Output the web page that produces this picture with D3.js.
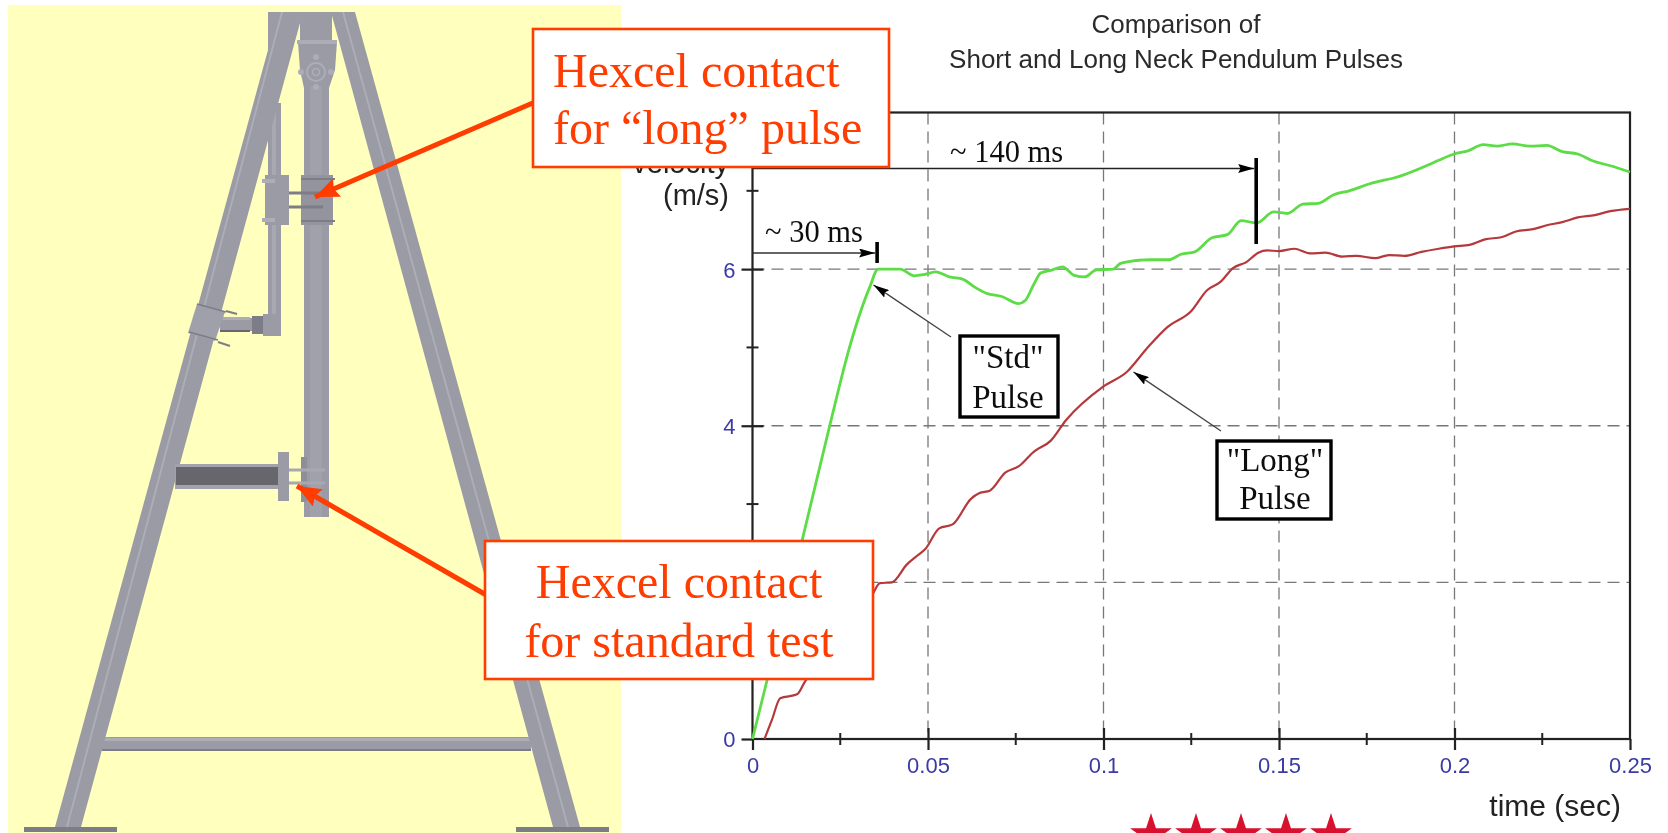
<!DOCTYPE html>
<html><head><meta charset="utf-8">
<style>html,body{margin:0;padding:0;background:#fff;overflow:hidden}svg{display:block}
text{font-family:"Liberation Sans",Arial,sans-serif}
.serif{font-family:"Liberation Serif","Times New Roman",serif}</style>
<script src="https://cdn.jsdelivr.net/npm/d3@7"></script></head><body>
<script>
const titleLines = ["Comparison of", "Short and Long Neck Pendulum Pulses"];
const xMajor = [0, 0.05, 0.1, 0.15, 0.2, 0.25];
const xMinor = [0.025, 0.075, 0.125, 0.175, 0.225];
const yMajor = [0, 2, 4, 6, 8];
const yMinor = [1, 3, 5, 7];
const yLabelled = [0, 4, 6];
const xGrid = [0.05, 0.1, 0.15, 0.2];
const yGrid = [2, 4, 6];
const stdTime = [0,.0042,.01416,.022,.0277,.0334,.0358,.0392,.0421,.046,.0488,.0522,.0561,.06,.0633,.0667,.071,.0758,.0777,.0802,.0821,.0855,.0883,.0917,.0946,.098,.1028,.1047,.1076,.1133,.1187,.1221,.126,.1309,.1353,.1392,.1436,.1485,.1524,.1568,.1612,.1656,.17,.1759,.1847,.1915,.1955,.1999,.2038,.2082,.2121,.2165,.2214,.2263,.2307,.2351,.2395,.2444,.25];
const stdVel = [0,.76,2.54,4.0,5.01,5.77,6.0,6.0,6.0,5.915,5.93,5.966,5.9,5.87,5.77,5.69,5.65,5.56,5.6,5.81,5.95,5.99,6.03,5.92,5.9,5.99,6.0,6.07,6.1,6.12,6.12,6.19,6.22,6.4,6.44,6.62,6.59,6.73,6.71,6.83,6.84,6.95,7.0,7.09,7.19,7.31,7.39,7.47,7.51,7.59,7.57,7.6,7.57,7.58,7.5,7.47,7.38,7.32,7.24];
const longTime = [.0034,.0055,.0079,.0127,.0149,.02,.025,.03,.0339,.0363,.0397,.044,.0469,.0493,.0532,.057,.0623,.0647,.0676,.072,.0758,.0802,.085,.0893,.0999,.1067,.1124,.1182,.1251,.1295,.1334,.1368,.1407,.1441,.1466,.15,.1544,.1588,.1632,.1681,.172,.1774,.1813,.1857,.1906,.1955,.1999,.2043,.2087,.2136,.2175,.2224,.2263,.2307,.2351,.24,.2444,.25];
const longVel = [0,.24,.52,.57,.73,1.02,1.3,1.6,1.82,1.99,2.0,2.23,2.34,2.43,2.69,2.74,3.07,3.14,3.17,3.4,3.48,3.67,3.81,4.07,4.5,4.69,4.99,5.26,5.47,5.73,5.84,6.01,6.09,6.21,6.24,6.23,6.26,6.2,6.21,6.16,6.17,6.14,6.18,6.17,6.22,6.26,6.29,6.31,6.38,6.41,6.48,6.51,6.56,6.6,6.66,6.69,6.74,6.77];
const starCount = [0,1,2,3,4];

const svg = d3.select("body").append("svg").attr("width",1668).attr("height",833);
const defs = svg.append("defs");
defs.append("filter").attr("id","soft").append("feGaussianBlur").attr("stdDeviation",0.55);
defs.append("filter").attr("id","soft2").append("feGaussianBlur").attr("stdDeviation",0.35);
const mk = (id,c,w,h)=>defs.append("marker").attr("id",id).attr("markerUnits","userSpaceOnUse")
  .attr("markerWidth",w).attr("markerHeight",h).attr("refX",w).attr("refY",h/2).attr("orient","auto")
  .append("path").attr("d",`M0,0L${w},${h/2}L0,${h}L${w*0.15},${h/2}Z`).attr("fill",c);
mk("blk","#000",16,9); mk("redh","#ff3c00",24,20);

/* ---------- pendulum frame illustration ---------- */
const art = svg.append("g").attr("filter","url(#soft)");
const G="#9b9ba6", L="#adadb8", D="#7d7d88", DK="#67666d";
const poly=(s,f)=>art.append("polygon").attr("points",s).attr("fill",f);
const rect=(x,y,w,h,f)=>art.append("rect").attr("x",x).attr("y",y).attr("width",w).attr("height",h).attr("fill",f);
const ln=(a,b,c,d,s,w)=>art.append("line").attr("x1",a).attr("y1",b).attr("x2",c).attr("y2",d).attr("stroke",s).attr("stroke-width",w);
rect(8,5,613,828,"#ffffbe");
// feet
rect(24,827,93,5,D); rect(516,827,93,5,D);
// crossbar
rect(102,737,429,14,G); rect(102,738,429,3,L); rect(102,749,429,2,D);
// centre pieces
poly("298,42 337,42 335,70 329,88 304,88 300,70",G);
rect(304,86,25,431,G); rect(310,86,12,431,"#a1a1ac");
// top cap
rect(268,12,87,4,"#a6a6b1"); rect(300,12,32,32,G); rect(297,40,40,4,L);
art.append("circle").attr("cx",316).attr("cy",72).attr("r",9).attr("fill","none").attr("stroke",L).attr("stroke-width",2);
art.append("circle").attr("cx",316).attr("cy",72).attr("r",3.5).attr("fill","none").attr("stroke",L).attr("stroke-width",1.5);
[[316,57],[316,87],[301,72],[331,72]].forEach(p=>art.append("circle").attr("cx",p[0]).attr("cy",p[1]).attr("r",3).attr("fill",L));
// secondary arm
rect(268,103,13,232,G); rect(272,103,4,232,"#a8a8b3");
rect(220,318,34,13,G); rect(220,317,30,3,L); rect(220,330,30,2,DK);
rect(252,316,29,18,D); rect(263,314,18,22,G);
// upper clamp
rect(265,175,24,50,G); rect(262,179,13,4,L); rect(262,218,13,4,L);
rect(301,175,32,50,"#94949f"); ln(301,179,335,179,D,2); ln(301,221,335,221,D,2);
ln(289,193,323,193,D,3); ln(289,207,323,207,D,3);
// legs
poly("268,12 303,12 81,827 55,827 268,50",G);
poly("331,12 355,12 580,827 553,827",G);
poly("281,12 283,12 68,827 66,827",L);
poly("342,12 344,12 569,827 567,827",L);
poly("197,304 225,312 215,341 188,333","#a0a0ab");
ln(197,304,226,312,D,1.5); ln(189,332,218,340,D,1.5);
ln(226,311,237,314,D,2); ln(218,342,230,346,D,2);
// lower beam
rect(175,464,104,25,"#a2a2ad"); rect(176,467,103,18,DK);
rect(278,452,11,49,G);
rect(301,457,6,45,"#8e8e99");
ln(289,470,325,470,"#a8a8b3",3); ln(289,483,325,483,"#a8a8b3",3);

/* ---------- chart ---------- */
const x = d3.scaleLinear().domain([0,0.25]).range([752.5,1630]);
const y = d3.scaleLinear().domain([0,8]).range([739,112.5]);
const chart = svg.append("g").attr("filter","url(#soft)");
const gridC="#77777c";
chart.append("g").selectAll("line").data(xGrid).join("line")
  .attr("x1",d=>x(d)).attr("x2",d=>x(d)).attr("y1",y(8)).attr("y2",y(0))
  .attr("stroke",gridC).attr("stroke-width",1.3).attr("stroke-dasharray","12,7");
chart.append("g").selectAll("line").data(yGrid).join("line")
  .attr("x1",x(0)).attr("x2",x(0.25)).attr("y1",d=>y(d)).attr("y2",d=>y(d))
  .attr("stroke",gridC).attr("stroke-width",1.3).attr("stroke-dasharray","12,7");
// frame
chart.append("rect").attr("x",x(0)).attr("y",y(8)).attr("width",x(0.25)-x(0)).attr("height",y(0)-y(8))
  .attr("fill","none").attr("stroke","#222").attr("stroke-width",2.2);
// x axis
const axB = chart.append("g").attr("transform",`translate(0,${y(0)})`)
  .call(d3.axisBottom(x).tickValues(xMajor).tickSize(11).tickPadding(9).tickFormat(d=>d3.format("~g")(d)));
axB.select(".domain").remove();
axB.selectAll("line").attr("y1",d=>d===0?0:(d===0.25?0:-11)).attr("stroke","#222").attr("stroke-width",2.2);
axB.selectAll("text").attr("y",34).attr("dy",0).attr("font-size",22).attr("fill","#3a3aa6").attr("font-family","Liberation Sans");
chart.append("g").selectAll("line").data(xMinor).join("line")
  .attr("x1",d=>x(d)).attr("x2",d=>x(d)).attr("y1",y(0)-6).attr("y2",y(0)+6).attr("stroke","#222").attr("stroke-width",2);
// y axis
const axL = chart.append("g").attr("transform",`translate(${x(0)},0)`)
  .call(d3.axisLeft(y).tickValues(yMajor.slice(0,4)).tickSize(11).tickFormat(d=>yLabelled.includes(d)?d:""));
axL.select(".domain").remove();
axL.selectAll("line").attr("x2",-11).attr("x1",d=>d===0?0:11).attr("stroke","#222").attr("stroke-width",2.2);
axL.selectAll("text").attr("x",-17).attr("dy","0.36em").attr("font-size",22).attr("fill","#3a3aa6").attr("font-family","Liberation Sans");
chart.append("g").selectAll("line").data(yMinor).join("line")
  .attr("y1",d=>y(d)).attr("y2",d=>y(d)).attr("x1",x(0)-6).attr("x2",x(0)+6).attr("stroke","#222").attr("stroke-width",2);
// series
const line = d3.line().x(d=>x(d[0])).y(d=>y(d[1])).curve(d3.curveMonotoneX);
chart.append("path").attr("d",line(d3.zip(longTime,longVel))).attr("fill","none").attr("stroke","#b5393c").attr("stroke-width",2.2);
chart.append("path").attr("d",line(d3.zip(stdTime,stdVel))).attr("fill","none").attr("stroke","#5bdc45").attr("stroke-width",2.8);
// titles
titleLines.forEach((t,i)=>chart.append("text").attr("x",1176).attr("y",[33,68][i]).attr("text-anchor","middle").attr("font-size",26).attr("fill","#2b2b2b").text(t));
chart.append("text").attr("x",729).attr("y",173).attr("text-anchor","end").attr("font-size",29).attr("fill","#222").text("velocity");
chart.append("text").attr("x",729).attr("y",205).attr("text-anchor","end").attr("font-size",29).attr("fill","#222").text("(m/s)");
chart.append("text").attr("x",1621).attr("y",816).attr("text-anchor","end").attr("font-size",30).attr("fill","#222").text("time (sec)");
// duration annotations
const serif=(g,tx,ty,s,anchor,size,fill)=>g.append("text").attr("class","serif").attr("x",tx).attr("y",ty).attr("text-anchor",anchor||"start").attr("font-size",size||30.5).attr("fill",fill||"#111").text(s);
chart.append("line").attr("x1",x(0)).attr("x2",x(0.1435)-2).attr("y1",168.5).attr("y2",168.5).attr("stroke","#222").attr("stroke-width",1.5).attr("marker-end","url(#blk)");
chart.append("line").attr("x1",x(0)).attr("x2",x(0.0355)-2).attr("y1",253).attr("y2",253).attr("stroke","#333").attr("stroke-width",1.6).attr("marker-end","url(#blk)");
chart.append("line").attr("x1",x(0.1435)).attr("x2",x(0.1435)).attr("y1",158).attr("y2",244).attr("stroke","#000").attr("stroke-width",3.6);
chart.append("line").attr("x1",x(0.0355)).attr("x2",x(0.0355)).attr("y1",242).attr("y2",263).attr("stroke","#000").attr("stroke-width",3.6);
serif(chart,950,162,"~ 140 ms");
serif(chart,765,242,"~ 30 ms");
// pulse labels
const pulse=(bx,by,bw,bh,cx,l1,b1,b2,ax,ay,tx,ty)=>{
  chart.append("line").attr("x1",ax).attr("y1",ay).attr("x2",tx).attr("y2",ty).attr("stroke","#444").attr("stroke-width",1.3).attr("marker-end","url(#blk)");
  chart.append("rect").attr("x",bx).attr("y",by).attr("width",bw).attr("height",bh).attr("fill","#fff").attr("stroke","#000").attr("stroke-width",3.4);
  serif(chart,cx,b1,l1,"middle",33); serif(chart,cx,b2,"Pulse","middle",33);
};
pulse(960,336,98,81,1008,'"Std"',368,408,951,337,873.5,285);
pulse(1217,441,114,78,1275,'"Long"',471,509,1221,431,1133.5,372);
// stars
const starPath = r=>d3.range(10).map(i=>{const a=-Math.PI/2+i*Math.PI/5,q=i%2?r*0.382:r;return [q*Math.cos(a),q*Math.sin(a)].join(",")}).join(" ");
svg.append("g").selectAll("polygon").data(starCount).join("polygon")
  .attr("points",starPath(22)).attr("fill","#d8112f")
  .attr("transform",d=>`translate(${1151+d*45},835)`);

/* ---------- red callouts ---------- */
const red="#ff3c00";
const call = svg.append("g").attr("filter","url(#soft2)");
call.append("line").attr("x1",535).attr("y1",102).attr("x2",315).attr("y2",197).attr("stroke",red).attr("stroke-width",5).attr("marker-end","url(#redh)");
call.append("line").attr("x1",488).attr("y1",596).attr("x2",297).attr("y2",486).attr("stroke",red).attr("stroke-width",5).attr("marker-end","url(#redh)");
const box=(bx,by,bw,bh)=>call.append("rect").attr("x",bx).attr("y",by).attr("width",bw).attr("height",bh).attr("fill","#fff").attr("stroke",red).attr("stroke-width",2.6);
box(533,29,356,138); box(485,541,388,138);
serif(call,553,87,"Hexcel contact","start",48,red);
serif(call,553,144,"for “long” pulse","start",48,red);
serif(call,679,598,"Hexcel contact","middle",48,red);
serif(call,679,657,"for standard test","middle",48,red);
</script></body></html>
